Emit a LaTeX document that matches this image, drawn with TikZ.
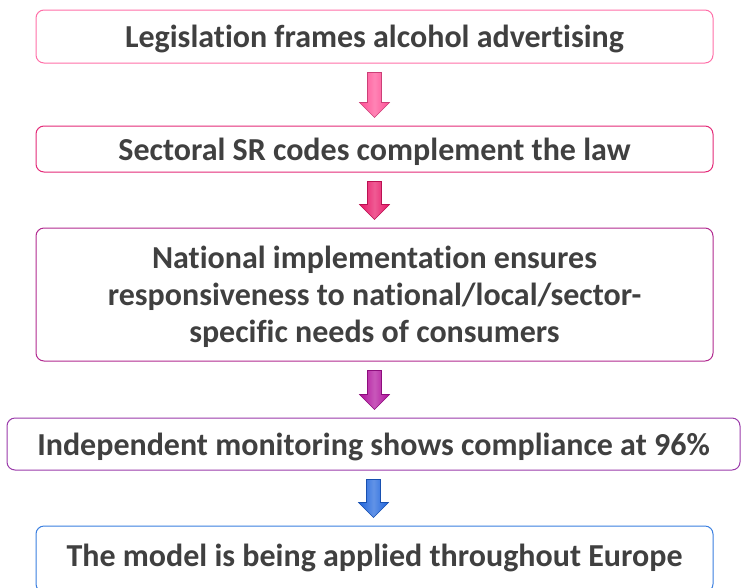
\documentclass[tikz,border=0pt]{standalone}
\usepackage{fontspec}
\setmainfont{Carlito}[Ligatures=NoCommon]
\usetikzlibrary{calc}
\definecolor{textgray}{HTML}{404040}
\definecolor{rosepink}{HTML}{FF6FA8}
\definecolor{raspberry}{HTML}{E42A78}
\definecolor{orchid}{HTML}{B22A90}
\definecolor{plum}{HTML}{9A3AAA}
\definecolor{royal}{HTML}{3A7FE0}
\definecolor{arrowpink}{HTML}{FF4F95}
\definecolor{arrowred}{HTML}{E81566}
\definecolor{arrowmagenta}{HTML}{B0109C}
\definecolor{arrowblue}{HTML}{1E64DC}

\tikzset{
  stage/.style={draw=#1, line width=1pt, rounded corners=8pt, fill=white,
    text=textgray, font=\fontsize{32}{37}\selectfont\bfseries,
    align=center, inner sep=0pt, text depth=0pt},
}

% block arrow from one stage down to the next
\newcommand{\stagearrow}[3]{%
  \path[draw=#3!80!black, line width=0.6pt, left color=#3, right color=#3, middle color=#3!70!white]
    let \p1=($(#1.south)+(0,9)$), \p2=($(#2.north)+(0,-8)$) in
    (\x1-7pt,\y1) -- (\x1+7pt,\y1) -- (\x1+7pt,\y2+15pt) -- (\x1+15pt,\y2+15pt)
    -- (\x1,\y2) -- (\x1-15pt,\y2+15pt) -- (\x1-7pt,\y2+15pt) -- cycle;}

\begin{document}
\begin{tikzpicture}[x=1pt, y=-1pt]

  \useasboundingbox (0,0) rectangle (741,587);
  \clip (0,0) rectangle (741,587);

  \node[stage=rosepink, minimum width=677pt, minimum height=53pt] (law) at (374.5,36.5)
    {Legislation frames alcohol advertising};
  \node[stage=raspberry, minimum width=677pt, minimum height=46pt] (codes) at (374.5,149)
    {Sectoral SR codes complement the law};
  \node[stage=orchid, minimum width=677pt, minimum height=133pt] (national) at (374.5,294.5)
    {National implementation ensures\\responsiveness to national/local/sector-\\specific needs of consumers};
  \node[stage=plum, minimum width=733pt, minimum height=52pt] (monitor) at (373.5,444)
    {Independent monitoring shows compliance at 96\%};
  \node[stage=royal, minimum width=677pt, minimum height=66pt] (europe) at (374.5,559)
    {\raisebox{6.5pt}{The model is being applied throughout Europe}};

  \stagearrow{law}{codes}{arrowpink}
  \stagearrow{codes}{national}{arrowred}
  \stagearrow{national}{monitor}{arrowmagenta}
  \stagearrow{monitor}{europe}{arrowblue}

\end{tikzpicture}
\end{document}
